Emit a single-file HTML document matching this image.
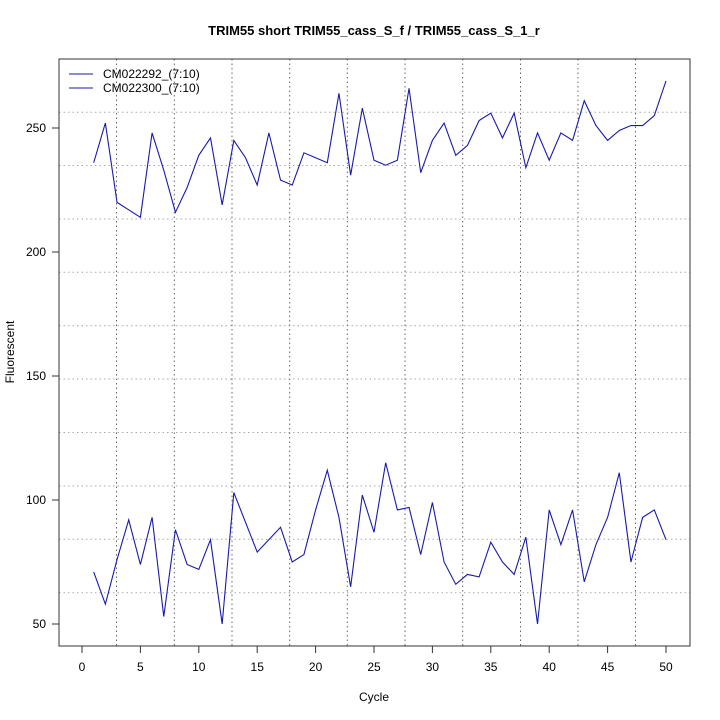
<!DOCTYPE html>
<html><head><style>body{margin:0;background:#fff}svg{display:block;font-family:"Liberation Sans",sans-serif}</style></head>
<body>
<svg width="720" height="720" viewBox="0 0 720 720">
<rect width="720" height="720" fill="#fff"/>
<g stroke="#aaa" stroke-dasharray="1.5,3" stroke-width="1">
<line x1="59" x2="690" y1="112.3" y2="112.3"/><line x1="59" x2="690" y1="165.5" y2="165.5"/><line x1="59" x2="690" y1="219" y2="219"/><line x1="59" x2="690" y1="272.3" y2="272.3"/><line x1="59" x2="690" y1="325.7" y2="325.7"/><line x1="59" x2="690" y1="379" y2="379"/><line x1="59" x2="690" y1="432.5" y2="432.5"/><line x1="59" x2="690" y1="486" y2="486"/><line x1="59" x2="690" y1="539.3" y2="539.3"/><line x1="59" x2="690" y1="592.7" y2="592.7"/>
</g>
<g stroke="#666" stroke-dasharray="1.5,3" stroke-width="1">
<line y1="59" y2="646" x1="116.5" x2="116.5"/><line y1="59" y2="646" x1="174.3" x2="174.3"/><line y1="59" y2="646" x1="232" x2="232"/><line y1="59" y2="646" x1="289.7" x2="289.7"/><line y1="59" y2="646" x1="347.3" x2="347.3"/><line y1="59" y2="646" x1="405" x2="405"/><line y1="59" y2="646" x1="462.7" x2="462.7"/><line y1="59" y2="646" x1="520.5" x2="520.5"/><line y1="59" y2="646" x1="578" x2="578"/><line y1="59" y2="646" x1="635.5" x2="635.5"/>
</g>
<rect x="59" y="59" width="631" height="587" fill="none" stroke="#333" stroke-width="1"/>
<g transform="translate(82,748) scale(11.68,-2.48)" fill="none" stroke="#1a1aaa">
<polyline vector-effect="non-scaling-stroke" stroke-width="1.1" points="1,236 2,252 3,220 4,217 5,214 6,248 7,233 8,216 9,226 10,239 11,246 12,219 13,245 14,238 15,227 16,248 17,229 18,227 19,240 20,238 21,236 22,264 23,231 24,258 25,237 26,235 27,237 28,266 29,232 30,245 31,252 32,239 33,243 34,253 35,256 36,246 37,256 38,234 39,248 40,237 41,248 42,245 43,261 44,251 45,245 46,249 47,251 48,251 49,255 50,269"/>
<polyline vector-effect="non-scaling-stroke" stroke-width="1.1" points="1,71 2,58 3,76 4,92 5,74 6,93 7,53 8,88 9,74 10,72 11,84 12,50 13,103 14,91 15,79 16,84 17,89 18,75 19,78 20,96 21,112 22,93 23,65 24,102 25,87 26,115 27,96 28,97 29,78 30,99 31,75 32,66 33,70 34,69 35,83 36,75 37,70 38,85 39,50 40,96 41,82 42,96 43,67 44,82 45,93 46,111 47,75 48,93 49,96 50,84"/>
</g>
<g stroke="#333">
<line x1="82" x2="666" y1="646" y2="646"/>
<line x1="82" x2="82" y1="646" y2="653"/><line x1="140.4" x2="140.4" y1="646" y2="653"/><line x1="198.8" x2="198.8" y1="646" y2="653"/><line x1="257.2" x2="257.2" y1="646" y2="653"/><line x1="315.6" x2="315.6" y1="646" y2="653"/><line x1="374" x2="374" y1="646" y2="653"/><line x1="432.4" x2="432.4" y1="646" y2="653"/><line x1="490.8" x2="490.8" y1="646" y2="653"/><line x1="549.2" x2="549.2" y1="646" y2="653"/><line x1="607.6" x2="607.6" y1="646" y2="653"/><line x1="666" x2="666" y1="646" y2="653"/>
<line x1="59" x2="59" y1="128" y2="624"/>
<line x1="52" x2="59" y1="624" y2="624"/><line x1="52" x2="59" y1="500" y2="500"/><line x1="52" x2="59" y1="376" y2="376"/><line x1="52" x2="59" y1="252" y2="252"/><line x1="52" x2="59" y1="128" y2="128"/>
</g>
<g font-size="12" text-anchor="middle" fill="#000">
<text x="82" y="671">0</text><text x="140.4" y="671">5</text><text x="198.8" y="671">10</text><text x="257.2" y="671">15</text><text x="315.6" y="671">20</text><text x="374" y="671">25</text><text x="432.4" y="671">30</text><text x="490.8" y="671">35</text><text x="549.2" y="671">40</text><text x="607.6" y="671">45</text><text x="666" y="671">50</text>
<g text-anchor="end"><text x="46" y="628">50</text><text x="46" y="504">100</text><text x="46" y="380">150</text><text x="46" y="256">200</text><text x="46" y="132">250</text></g>
<text x="374" y="701">Cycle</text>
<text transform="translate(14,352) rotate(-90)">Fluorescent</text>
<text x="374" y="35" font-weight="bold" font-size="13">TRIM55 short TRIM55_cass_S_f / TRIM55_cass_S_1_r</text>
</g>
<g font-size="12" fill="#000">
<line x1="69" x2="93" y1="74" y2="74" stroke="#1a1aaa"/>
<line x1="69" x2="93" y1="88" y2="88" stroke="#1a1aaa"/>
<text x="103" y="78">CM022292_(7:10)</text>
<text x="103" y="92">CM022300_(7:10)</text>
</g>
</svg>
</body></html>
